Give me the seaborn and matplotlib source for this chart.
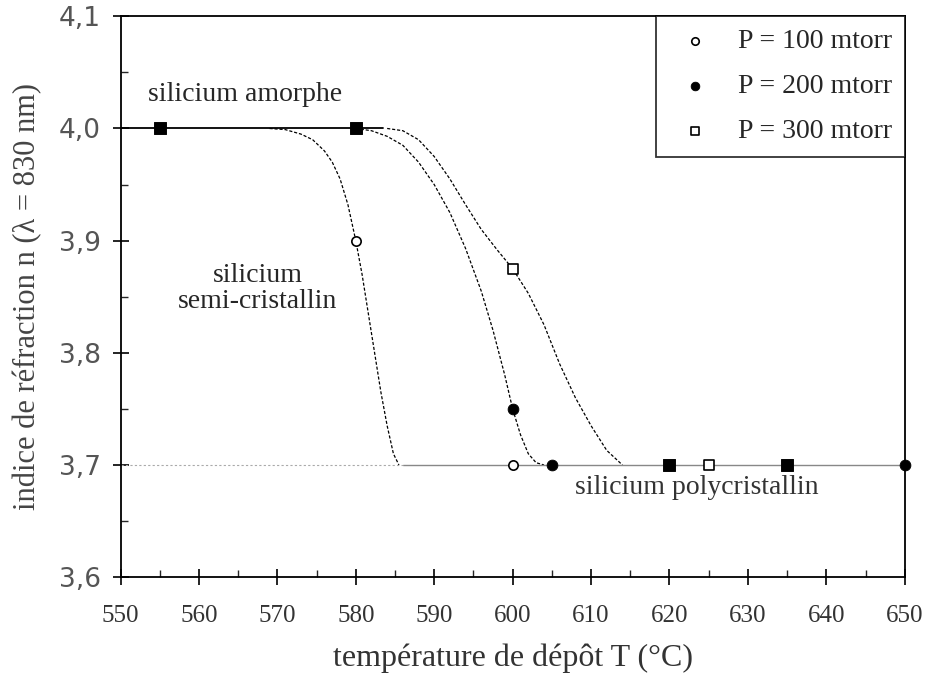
import numpy as np
import pandas as pd
import seaborn as sns
import matplotlib.pyplot as plt
from matplotlib.ticker import MultipleLocator, FixedLocator

# measured points
t_100 = [580, 600]
n_100 = [3.9, 3.7]
t_200 = [600, 605, 650]
n_200 = [3.75, 3.7, 3.7]
t_300 = [600, 625]
n_300 = [3.875, 3.7]
t_black = [555, 580, 620, 635]
n_black = [4.0, 4.0, 3.7, 3.7]

# hand drawn guide curves
curve_100_t = [569, 571, 573, 574.5, 576, 577, 578, 579, 580, 580.8, 581.6, 582.4, 583.2, 584, 584.8, 585.5]
curve_100_n = [4.0, 3.999, 3.995, 3.99, 3.98, 3.97, 3.955, 3.932, 3.9, 3.87, 3.835, 3.80, 3.765, 3.735, 3.71, 3.7]
curve_200_t = [580, 582, 584, 586, 588, 590, 592, 594, 596, 597.5, 599, 600, 601, 602, 603, 604]
curve_200_n = [4.0, 3.998, 3.993, 3.985, 3.97, 3.95, 3.925, 3.893, 3.855, 3.82, 3.78, 3.75, 3.727, 3.71, 3.702, 3.7]
curve_300_t = [584, 586, 588, 590, 592, 594, 596, 598, 600, 602, 604, 606, 608, 610, 612, 614]
curve_300_n = [4.0, 3.998, 3.99, 3.975, 3.955, 3.932, 3.91, 3.892, 3.875, 3.853, 3.825, 3.79, 3.76, 3.735, 3.713, 3.7]
amorph_t = [550, 583.5]
amorph_n = [4.0, 4.0]
poly_t = [586, 650]
poly_n = [3.7, 3.7]
poly_dash_t = [550, 586]
poly_dash_n = [3.7, 3.7]
x_ticks = list(range(550, 651, 10))
y_ticks = [3.6, 3.7, 3.8, 3.9, 4.0, 4.1]

sns.set_style("white")
plt.rcParams['font.family'] = ['Liberation Serif', 'DejaVu Serif']

fig, ax = plt.subplots(figsize=(9.27, 6.79), dpi=100)
fig.subplots_adjust(left=0.13, right=0.976, top=0.976, bottom=0.15)

dot = (0, (2.5, 1.5))
sns.lineplot(x=curve_100_t, y=curve_100_n, sort=False, color='black', lw=0.9, linestyle=dot, ax=ax)
sns.lineplot(x=curve_200_t, y=curve_200_n, sort=False, color='black', lw=0.9, linestyle=dot, ax=ax)
sns.lineplot(x=curve_300_t, y=curve_300_n, sort=False, color='black', lw=0.9, linestyle=dot, ax=ax)
sns.lineplot(x=amorph_t, y=amorph_n, color='black', lw=1.3, ax=ax)
sns.lineplot(x=poly_t, y=poly_n, color='#888888', lw=1.0, ax=ax)
sns.lineplot(x=poly_dash_t, y=poly_dash_n, color='#aaaaaa', lw=0.8, linestyle=(0, (2, 2)), ax=ax)

sns.scatterplot(x=t_black, y=n_black, marker='s', color='black', edgecolor='black', s=70, ax=ax, zorder=5)
sns.scatterplot(x=t_100, y=n_100, marker='o', facecolor='white', edgecolor='black', linewidth=1.2, s=45,
                ax=ax, zorder=5, label='P = 100 mtorr')
sns.scatterplot(x=t_200, y=n_200, marker='o', color='black', edgecolor='black', s=60,
                ax=ax, zorder=5, label='P = 200 mtorr', clip_on=False)
sns.scatterplot(x=t_300, y=n_300, marker='s', facecolor='white', edgecolor='black', linewidth=1.2, s=50,
                ax=ax, zorder=5, label='P = 300 mtorr')

ax.text(553.5, 4.03, 'silicium amorphe', fontsize=20, ha='left', va='center')
ax.text(567.5, 3.857, 'silicium\nsemi-cristallin', fontsize=20, ha='center', va='center', linespacing=1.05)
ax.text(608, 3.68, 'silicium polycristallin', fontsize=20, ha='left', va='center', color='#333333')

ax.set_xlim(550, 650)
ax.set_ylim(3.6, 4.1)
ax.set_xticks(x_ticks)
ax.set_xticklabels([str(v) for v in x_ticks], color='#333333', fontsize=18)
ax.xaxis.set_minor_locator(MultipleLocator(5))
ax.yaxis.set_major_locator(FixedLocator(y_ticks))
ax.set_yticklabels([f'{v:.1f}'.replace('.', ',') for v in y_ticks], family='DejaVu Sans', color='#555555', fontsize=19)
ax.yaxis.set_minor_locator(MultipleLocator(0.05))
ax.tick_params(which='both', bottom=True, left=True, top=False, right=False)
ax.tick_params(which='major', direction='inout', length=12, width=1.2, colors='black')
ax.tick_params(which='minor', direction='in', length=5, width=1)
ax.tick_params(axis='x', which='major', pad=14, labelcolor='#333333')
ax.tick_params(axis='y', which='major', pad=8, labelcolor='#555555')
for s in ax.spines.values():
    s.set_color('black')
    s.set_linewidth(1.3)

ax.set_xlabel('température de dépôt T (°C)', fontsize=23, color='#333333', labelpad=12)
ax.set_ylabel('indice de réfraction n (λ = 830 nm)', fontsize=22, color='#444444', labelpad=12)

leg = ax.legend(loc='upper right', fontsize=20, frameon=True, fancybox=False, edgecolor='black',
                borderaxespad=0.0, handletextpad=0.6, markerscale=0.8, borderpad=0.45, labelspacing=0.7,
                handlelength=1.9)
leg.get_frame().set_linewidth(1.3)

fig.savefig('out.png', dpi=100)
